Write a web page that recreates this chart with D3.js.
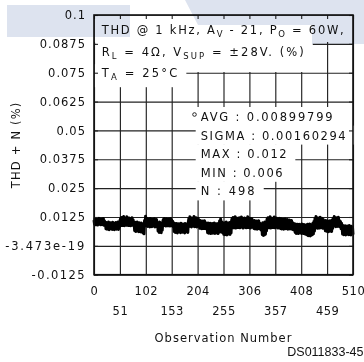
<!DOCTYPE html>
<html><head><meta charset="utf-8">
<script src="https://cdn.jsdelivr.net/npm/d3@7"></script>
<style>
body{margin:0;background:#fff}
svg{display:block}
text{font-family:"DejaVu Sans",sans-serif;fill:#111}
</style>
</head><body>
<svg id="c" width="364" height="362"></svg>
<script>
// ---------- data ----------
const yTicks = [-0.0125, 0, 0.0125, 0.025, 0.0375, 0.05, 0.0625, 0.075, 0.0875, 0.1];
const yTickLabels = ["-0.0125", "-3.473e-19", "0.0125", "0.025", "0.0375", "0.05", "0.0625", "0.075", "0.0875", "0.1"];
const xTicksRow1 = [0, 102, 204, 306, 408, 510];
const xTicksRow2 = [51, 153, 255, 357, 459];
const xTicks = [0, 51, 102, 153, 204, 255, 306, 357, 408, 459, 510];
// THD+N readings in units of 0.0001 %, observation 1..498
const thdRaw = [
112,94,118,91,115,96,117,90,110,93,119,95,113,91,116,98,111,92,118,89,109,94,
96,74,101,72,98,78,103,70,94,76,100,73,97,71,102,75,93,70,99,77,101,72,95,74,103,71,98,82,110,
118,90,123,88,115,95,127,87,120,92,117,89,126,94,112,88,121,91,119,87,116,93,122,89,113,90,
98,66,102,62,95,68,103,64,97,61,100,66,94,60,99,63,92,56,96,52,
110,86,128,89,120,
112,84,116,86,110,82,118,87,108,83,115,85,111,86,117,82,109,84,114,85,
100,64,96,58,103,62,94,57,99,68,105,
114,88,118,90,111,86,117,91,113,87,116,89,110,86,118,92,112,87,107,83,
94,62,98,58,90,65,97,56,92,60,96,63,89,57,98,61,93,59,95,64,91,56,97,60,88,62,96,58,102,
118,84,126,87,115,82,121,89,112,85,127,83,117,88,122,82,114,86,119,84,
106,76,110,78,102,74,108,80,104,75,109,77,101,74,98,
95,57,99,55,92,60,98,53,90,58,97,55,93,61,99,54,91,56,96,59,94,53,98,62,108,60,116,64,104,58,96,
92,50,100,48,95,54,103,47,90,50,98,53,101,49,94,56,108,
118,80,123,78,112,85,126,77,116,82,120,79,110,84,122,78,117,81,125,86,113,77,119,80,121,83,111,78,118,82,126,79,115,85,120,77,112,80,117,83,108,
104,75,110,73,101,78,108,72,103,76,109,74,99,72,96,68,
94,48,100,45,90,47,103,50,98,65,
115,80,122,78,118,83,126,77,112,81,120,79,116,84,125,78,114,80,121,82,117,77,110,83,119,
110,75,117,73,108,78,115,72,111,76,116,74,106,79,114,72,109,75,112,73,104,76,110,72,101,70,98,68,
92,58,95,54,88,60,94,53,90,56,93,59,87,54,95,57,89,53,92,55,86,50,90,
88,47,94,44,86,49,95,43,90,46,92,48,98,52,105,64,
118,78,127,80,112,76,121,82,116,77,124,79,110,81,119,76,114,78,108,
104,65,110,63,100,67,108,61,103,64,109,66,98,62,112,76,
118,85,127,87,112,83,122,88,116,84,124,86,110,83,105,74,98,
85,51,88,48,82,54,87,47,84,50,86,53,80,48,88,52,83,47,85,51,81,49
];
const headerLines = [
  [["THD @ 1 kHz, A"], ["V", 1], [" - 21, P"], ["O", 1], [" = 60W,"]],
  [["R"], ["L", 1], [" = 4\u03A9, V"], ["SUP", 1], [" = \u00B128V. (%)"]],
  [["T"], ["A", 1], [" = 25\u00B0C"]]
];
const statsLines = ["AVG : 0.00899799", "SIGMA : 0.00160294", "MAX : 0.012", "MIN : 0.006", "N : 498"];
const xTitle = "Observation Number";
const yTitle = "THD + N (%)";
const figId = "DS011833-45";

// ---------- layout ----------
const m = {l: 94, r: 353, t: 15, b: 274.7};
const x = d3.scaleLinear().domain([0, 510]).range([m.l, m.r]);
const y = d3.scaleLinear().domain([-0.0125, 0.1]).range([m.b, m.t]);
const thd = thdRaw.map(v => v / 10000);
const xi = d3.scaleLinear().domain([0, thd.length - 1]).range([m.l, m.r]);
const svg = d3.select("#c");
const FS = 11.5;

// grid
const grid = svg.append("g");
grid.append("g").attr("transform", `translate(${m.l},0)`)
  .call(d3.axisLeft(y).tickValues(yTicks).tickSize(-(m.r - m.l)).tickFormat(""))
  .call(g => g.select(".domain").remove());
grid.append("g").attr("transform", `translate(0,${m.b})`)
  .call(d3.axisBottom(x).tickValues(xTicks).tickSize(-(m.b - m.t)).tickFormat(""))
  .call(g => g.select(".domain").remove());
grid.selectAll("line").attr("stroke", "#222").attr("stroke-width", 1.15);

// data
svg.append("path").datum(thd)
  .attr("fill", "none").attr("stroke", "#000").attr("stroke-width", 3)
  .attr("stroke-linejoin", "round")
  .attr("d", d3.line().x((d, i) => xi(i)).y(d => y(d)));

// annotation helper: stretch letter spacing so a text spans the measured width
function fit(t, target) {
  t.style("letter-spacing", "0px");
  const n = t.text().length;
  const nat = t.node().getComputedTextLength();
  t.style("letter-spacing", ((target - nat) / (n - 1)) + "px");
}
const ann = svg.append("g");
const hdrBase = [33.7, 55.7, 77.2];
const hdrW = [242, 202, 75.5];
const hdrBox = [[-18, 8.3], [-13.7, 16.3], [-13, 10]];
headerLines.forEach((segs, k) => {
  const g = ann.append("g");
  const r = g.append("rect").attr("fill", "#fff");
  const t = g.append("text").attr("x", 101.7).attr("y", hdrBase[k]).style("font-size", FS + "px");
  let shifted = false;
  segs.forEach(s => {
    const ts = t.append("tspan").text(s[0]);
    if (s[1]) { ts.style("font-size", "8.5px").attr("dy", 3.2); shifted = true; }
    else if (shifted) { ts.attr("dy", -3.2); shifted = false; }
  });
  fit(t, hdrW[k]);
  const bb = t.node().getBBox();
  r.attr("x", bb.x - 6).attr("width", bb.width + 13)
   .attr("y", hdrBase[k] + hdrBox[k][0]).attr("height", hdrBox[k][1] - hdrBox[k][0]);
});
const stBase = 121, stStep = 18.6;
const stW = [132, 145, 86, 82, 54];
statsLines.forEach((s, k) => {
  const by = stBase + k * stStep;
  const g = ann.append("g");
  const r = g.append("rect").attr("fill", "#fff");
  const t = g.append("text").attr("x", 200.7).attr("y", by).style("font-size", FS + "px").text(s);
  fit(t, stW[k]);
  const bb = t.node().getBBox();
  const x0 = k === 0 ? 189 : bb.x - 5;
  r.attr("x", x0).attr("width", bb.x + bb.width + 7 - x0).attr("y", by - 14).attr("height", 19);
  if (k === 0) g.append("circle").attr("cx", 194.5).attr("cy", by - 6.5).attr("r", 1.8)
    .attr("fill", "none").attr("stroke", "#111").attr("stroke-width", 0.9);
});

// inner ticks on all sides
const tk = svg.append("g");
tk.append("g").attr("transform", `translate(${m.l},0)`).call(d3.axisLeft(y).tickValues(yTicks).tickSize(-4).tickFormat(""));
tk.append("g").attr("transform", `translate(${m.r},0)`).call(d3.axisRight(y).tickValues(yTicks).tickSize(-4).tickFormat(""));
tk.append("g").attr("transform", `translate(0,${m.t})`).call(d3.axisTop(x).tickValues(xTicks).tickSize(-4).tickFormat(""));
tk.selectAll(".domain").remove();
tk.selectAll("line").attr("stroke", "#222").attr("stroke-width", 1.1);

// frame
svg.append("rect").attr("x", m.l).attr("y", m.t).attr("width", m.r - m.l).attr("height", m.b - m.t)
  .attr("fill", "none").attr("stroke", "#111").attr("stroke-width", 1.6);

// axis labels
function styleLabels(ls) {
  return g => {
    g.select(".domain").remove();
    g.selectAll("text").style("font-size", FS + "px").style("letter-spacing", ls + "px").attr("fill", "#111");
  };
}
const yLab = svg.append("g").attr("transform", `translate(${m.l},0)`)
  .call(d3.axisLeft(y).tickValues(yTicks).tickSize(0).tickPadding(8).tickFormat((d, i) => yTickLabels[i]))
  .call(styleLabels(1));
// the long labels use a wider minus in the original; stretch them to their measured widths
yLab.selectAll("text").each(function (d, i) {
  const t = d3.select(this);
  if (yTickLabels[i] === "-3.473e-19") fit(t, 79);
  if (yTickLabels[i] === "-0.0125") fit(t, 53);
});
svg.append("g").attr("transform", `translate(0,${m.b})`)
  .call(d3.axisBottom(x).tickValues(xTicksRow1).tickSize(0).tickPadding(11.8).tickFormat(d3.format("d")))
  .call(styleLabels(0.5));
svg.append("g").attr("transform", `translate(0,${m.b})`)
  .call(d3.axisBottom(x).tickValues(xTicksRow2).tickSize(0).tickPadding(32).tickFormat(d3.format("d")))
  .call(styleLabels(0.5));

svg.append("text").attr("x", (m.l + m.r) / 2).attr("y", 342).attr("text-anchor", "middle")
  .style("font-size", FS + "px").style("letter-spacing", "1px").text(xTitle);
svg.append("text").attr("transform", `translate(20,${(m.t + m.b) / 2}) rotate(-90)`).attr("text-anchor", "middle")
  .style("font-size", FS + "px").style("letter-spacing", "1.2px").text(yTitle);
svg.append("text").attr("x", 363.5).attr("y", 356).attr("text-anchor", "end")
  .style("font-family", "'Liberation Sans', Arial, sans-serif").style("font-size", "12.5px").text(figId);

// pale watermark overlay
const wm = svg.append("g").style("mix-blend-mode", "multiply").attr("fill", "#dde3ef");
wm.append("rect").attr("x", 7).attr("y", 5).attr("width", 123).attr("height", 32);
wm.append("path").attr("d", "M185,0 L364,0 L364,44 L312,44 L312,25 L198,25 Z");
</script>
</body></html>
